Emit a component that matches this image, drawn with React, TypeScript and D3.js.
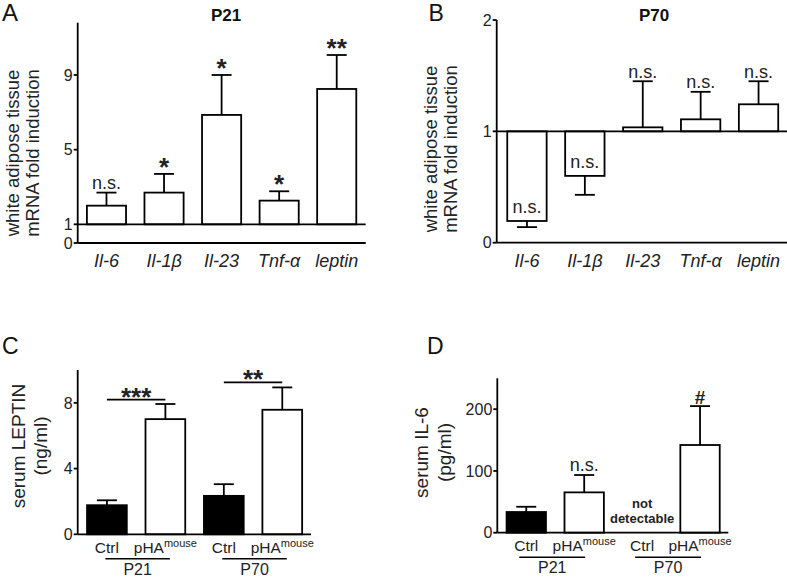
import React from 'react';
import * as d3 from 'd3';

// ---------- data ----------
const genes = ['Il-6', 'Il-1β', 'Il-23', 'Tnf-α', 'leptin'];
const p21Means = [2.0, 2.7, 6.86, 2.27, 8.25];
const p21Errors = [0.7, 1.0, 2.14, 0.5, 1.82];
const p21Sig = ['n.s.', '*', '*', '*', '**'];
const p21Ticks = [0, 1, 5, 9];

const p70Means = [0.195, 0.6, 1.036, 1.108, 1.243];
const p70Errors = [0.055, 0.17, 0.414, 0.247, 0.207];
const p70Sig = ['n.s.', 'n.s.', 'n.s.', 'n.s.', 'n.s.'];
const p70Ticks = [0, 1, 2];

const serumAges = ['P21', 'P70'];
const serumGroups = ['Ctrl', 'pHA'];
const leptinMeans = [1.77, 7.01, 2.34, 7.58];
const leptinErrors = [0.3, 0.92, 0.71, 1.36];
const leptinSigLevels = [8.2, 9.25];
const leptinSig = ['***', '**'];
const leptinTicks = [0, 4, 8];

const il6Means: (number | null)[] = [33.5, 65.3, null, 142];
const il6Errors: (number | null)[] = [8.5, 28.1, null, 63];
const il6Sig: (string | null)[] = [null, 'n.s.', null, '#'];
const il6Ticks = [0, 100, 200];

const FONT = '"Liberation Sans", Arial, Helvetica, sans-serif';
const SW = 1.8;

function YAxis({ x, y, ticks, top, bottom }: any) {
  return (
    <g>
      <line x1={x} x2={x} y1={top} y2={bottom} stroke="#000" strokeWidth={SW} />
      {ticks.map((t: number) => (
        <g key={t}>
          <line x1={x - 4} x2={x} y1={y(t)} y2={y(t)} stroke="#000" strokeWidth={SW} />
          <text x={x - 5} y={y(t)} dy="0.36em" textAnchor="end" fontSize={16} fill="#222">
            {t}
          </text>
        </g>
      ))}
    </g>
  );
}

function YLabel({ lines, xs, cy, size }: any) {
  return (
    <g>
      {lines.map((l: string, i: number) => (
        <text
          key={i}
          transform={`translate(${xs[i]},${cy}) rotate(-90)`}
          textAnchor="middle"
          fontSize={size}
          fill="#222"
        >
          {l}
        </text>
      ))}
    </g>
  );
}

function FoldPanel({ cfg }: any) {
  const x = d3.scaleBand<string>().domain(genes).range(cfg.band).paddingInner(0.32).paddingOuter(0.16);
  const y = d3.scaleLinear().domain([0, cfg.yMax]).range([cfg.yBottom, cfg.yTop]);
  const base = y(1);
  const bw = x.bandwidth();
  return (
    <g>
      <text x={cfg.letterX} y={21} fontSize={cfg.letterSize} fill="#111">{cfg.letter}</text>
      <text x={cfg.titleX} y={20.7} textAnchor="middle" fontSize={17} fontWeight="bold" fill="#111">
        {cfg.title}
      </text>
      <YLabel lines={['white adipose tissue', 'mRNA fold induction']} xs={cfg.labelXs} cy={cfg.labelCy} size={18.5} />
      {genes.map((g, i) => {
        const m = cfg.means[i];
        const e = cfg.errors[i];
        const up = m >= 1;
        const ym = y(m);
        const ye = y(up ? m + e : m - e);
        const cx = (x(g) as number) + bw / 2;
        const sig = cfg.sig[i];
        let ly: number;
        let fs = 18;
        let fw = 'normal';
        if (sig.startsWith('*')) {
          fs = 26;
          fw = 'bold';
          ly = ye + 2;
        } else if (up) {
          ly = ye - 3.5;
        } else {
          ly = ym - 7.5;
        }
        return (
          <g key={g}>
            <line x1={cx} x2={cx} y1={ym} y2={ye} stroke="#000" strokeWidth={SW} />
            <line x1={cx - 10} x2={cx + 10} y1={ye} y2={ye} stroke="#000" strokeWidth={SW} />
            <rect
              x={x(g)}
              y={Math.min(ym, base)}
              width={bw}
              height={Math.abs(base - ym)}
              fill="#fff"
              stroke="#000"
              strokeWidth={SW}
            />
            <text x={cx} y={ly} textAnchor="middle" fontSize={fs} fontWeight={fw} fill="#222">{sig}</text>
            <text x={cx} y={266.5} textAnchor="middle" fontSize={18} fontStyle="italic" fill="#222">{g}</text>
          </g>
        );
      })}
      <line x1={cfg.axisX} x2={cfg.axisEnd} y1={base} y2={base} stroke="#000" strokeWidth={SW} />
      <line x1={cfg.axisX} x2={cfg.axisEnd} y1={y(0)} y2={y(0)} stroke="#000" strokeWidth={SW} />
      <YAxis x={cfg.axisX} y={y} ticks={cfg.ticks} top={cfg.yTop} bottom={y(0)} />
    </g>
  );
}

function SerumPanel({ cfg }: any) {
  const ids = serumAges.flatMap((a) => serumGroups.map((g) => `${a}-${g}`));
  const x = d3.scaleBand<string>().domain(ids).range(cfg.band).paddingInner(0.32).paddingOuter(0.16);
  const y = d3.scaleLinear().domain([0, cfg.yMax]).range([cfg.yBottom, cfg.yTop]);
  const bw = x.bandwidth();
  const c = (id: string) => (x(id) as number) + bw / 2;
  const y0 = y(0);
  return (
    <g>
      <text x={cfg.letterX} y={353.5} fontSize={23} fill="#111">{cfg.letter}</text>
      <YLabel lines={cfg.ylabel} xs={cfg.labelXs} cy={cfg.labelCy} size={19} />
      {ids.map((id, i) => {
        const m = cfg.means[i];
        const e = cfg.errors[i];
        const cx = c(id);
        const isCtrl = id.endsWith('Ctrl');
        const s = cfg.sig ? cfg.sig[i] : null;
        return (
          <g key={id}>
            {m != null && (
              <>
                <line x1={cx} x2={cx} y1={y(m)} y2={y(m + e)} stroke="#000" strokeWidth={SW} />
                <line x1={cx - 10} x2={cx + 10} y1={y(m + e)} y2={y(m + e)} stroke="#000" strokeWidth={SW} />
                <rect
                  x={x(id)}
                  y={y(m)}
                  width={bw}
                  height={y0 - y(m)}
                  fill={isCtrl ? '#000' : '#fff'}
                  stroke="#000"
                  strokeWidth={SW}
                />
                {s && (
                  <text
                    x={cx}
                    y={y(m + e) - (s === '#' ? 2.5 : 4)}
                    textAnchor="middle"
                    fontSize={s === '#' ? 19 : 18}
                    fontWeight={s === '#' ? 'bold' : 'normal'}
                    fill="#222"
                  >
                    {s}
                  </text>
                )}
              </>
            )}
            {m == null && (
              <text textAnchor="middle" fontSize={13} fontWeight="bold" fill="#222">
                <tspan x={cx} y={y0 - 25}>not</tspan>
                <tspan x={cx} y={y0 - 10}>detectable</tspan>
              </text>
            )}
            <text x={cx} y={y0 + 18.5} textAnchor="middle" fill="#222" fontSize={15.5}>
              {isCtrl ? (
                'Ctrl'
              ) : (
                <>
                  <tspan>pHA</tspan>
                  <tspan fontSize={11} dy={-6}>mouse</tspan>
                </>
              )}
            </text>
          </g>
        );
      })}
      {serumAges.map((a) => {
        const c1 = c(`${a}-Ctrl`);
        const c2 = c(`${a}-pHA`);
        const lx1 = c1 + cfg.groupOff[0];
        const lx2 = c2 + cfg.groupOff[1];
        return (
          <g key={a}>
            <line x1={lx1} x2={lx2} y1={y0 + 24.5} y2={y0 + 24.5} stroke="#000" strokeWidth={1.5} />
            <text x={(lx1 + lx2) / 2} y={y0 + 40.5} textAnchor="middle" fontSize={16} fill="#222">{a}</text>
          </g>
        );
      })}
      {cfg.sigLevels &&
        serumAges.map((a, i) => {
          const c1 = c(`${a}-Ctrl`);
          const c2 = c(`${a}-pHA`);
          const ly = y(cfg.sigLevels[i]);
          return (
            <g key={`s${a}`}>
              <line x1={c1} x2={c2} y1={ly} y2={ly} stroke="#000" strokeWidth={SW} />
              <text x={(c1 + c2) / 2} y={ly + 6} textAnchor="middle" fontSize={26} fontWeight="bold" fill="#222">
                {cfg.sigText[i]}
              </text>
            </g>
          );
        })}
      <line x1={cfg.axisX} x2={cfg.axisEnd} y1={y0} y2={y0} stroke="#000" strokeWidth={SW} />
      <YAxis x={cfg.axisX} y={y} ticks={cfg.ticks} top={cfg.yTop} bottom={y0} />
    </g>
  );
}

export default function App() {
  const A = {
    letter: 'A', letterX: 2, letterSize: 24, title: 'P21', titleX: 226,
    band: [77.7, 365.5], axisX: 77.7, axisEnd: 365.7,
    yMax: 11.8, yBottom: 243, yTop: 22.7,
    means: p21Means, errors: p21Errors, sig: p21Sig, ticks: p21Ticks,
    labelXs: [18.5, 38.5], labelCy: 153,
  };
  const B = {
    letter: 'B', letterX: 428.5, letterSize: 23, title: 'P70', titleX: 654,
    band: [498, 787.5], axisX: 496.7, axisEnd: 787,
    yMax: 2, yBottom: 242.7, yTop: 20,
    means: p70Means, errors: p70Errors, sig: p70Sig, ticks: p70Ticks,
    labelXs: [437, 457], labelCy: 149,
  };
  const C = {
    letter: 'C', letterX: 2, band: [77.7, 311.5], axisX: 77.7, axisEnd: 311,
    yMax: 10, yBottom: 534.3, yTop: 370,
    means: leptinMeans, errors: leptinErrors, ticks: leptinTicks,
    sigLevels: leptinSigLevels, sigText: leptinSig,
    ylabel: ['serum LEPTIN', '(ng/ml)'], labelXs: [25.3, 47], labelCy: 446,
    groupOff: [-1.5, 4.5],
  };
  const D = {
    letter: 'D', letterX: 427, band: [497.3, 729], axisX: 497.3, axisEnd: 728.3,
    yMax: 250, yBottom: 532.7, yTop: 378.3,
    means: il6Means, errors: il6Errors, ticks: il6Ticks, sig: il6Sig,
    ylabel: ['serum IL-6', '(pg/ml)'], labelXs: [428.3, 450.5], labelCy: 452.5,
    groupOff: [-7, 1],
  };
  return (
    <div style={{ position: 'absolute', left: 0, top: 0 }}>
      <svg width={787} height={577} style={{ display: 'block', background: '#fff', fontFamily: FONT }}>
        <rect width={787} height={577} fill="#fff" />
        <FoldPanel cfg={A} />
        <FoldPanel cfg={B} />
        <SerumPanel cfg={C} />
        <SerumPanel cfg={D} />
      </svg>
    </div>
  );
}
